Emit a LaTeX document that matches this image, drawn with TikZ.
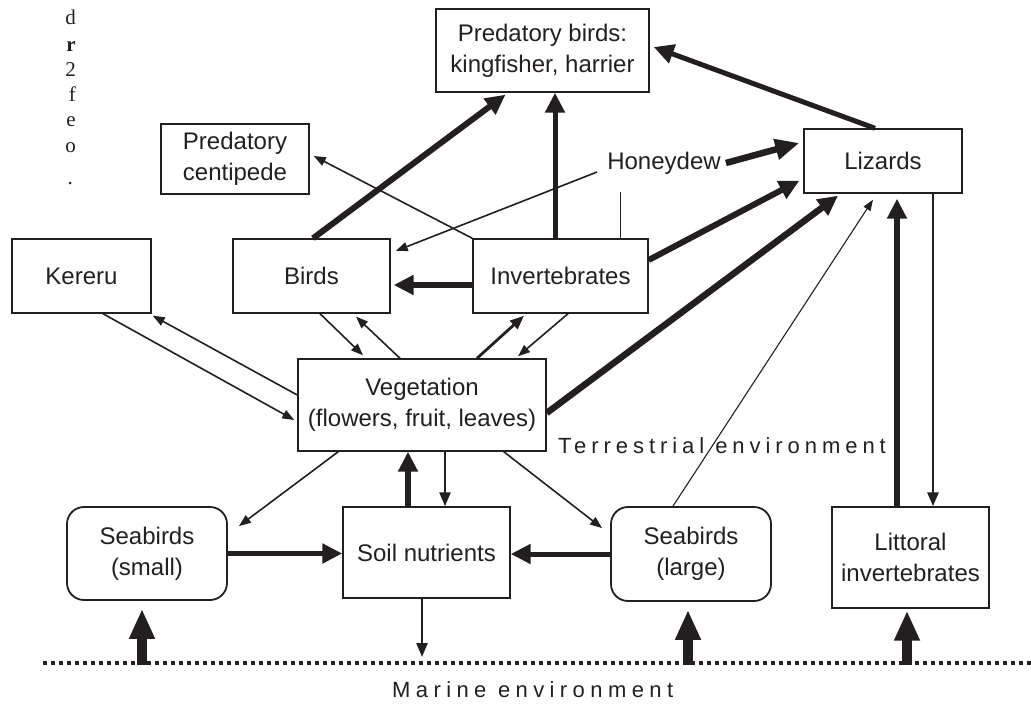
\documentclass[tikz,border=0pt]{standalone}
\usepackage{fontspec}
\setmainfont{Liberation Sans}
\newfontfamily\cutserif{Liberation Serif}
\newfontfamily\trackfont[LetterSpace=22.5]{Liberation Sans}
\newfontfamily\widetrackfont[LetterSpace=24.6]{Liberation Sans}
\usetikzlibrary{arrows.meta}
\definecolor{ink}{RGB}{35,31,32}

\begin{document}
\begin{tikzpicture}[x=1pt,y=-1pt,
  box/.style={draw=ink, line width=1.4pt, align=center, inner sep=0pt,
    text=ink, font=\fontsize{24}{31}\selectfont},
  rbox/.style={box, line width=1.8pt, rounded corners=17pt},
  label/.style={inner sep=0pt, text=ink, font=\fontsize{24}{29}\selectfont},
  envlabel/.style={inner sep=0pt, text=ink, font=\trackfont\fontsize{22}{26}\selectfont},
  sealabel/.style={inner sep=0pt, text=ink, font=\widetrackfont\fontsize{22}{26}\selectfont},
  cut/.style={inner sep=0pt, text=ink, anchor=base east, font=\cutserif\fontsize{21}{25}\selectfont},
  heavy/.style={draw=ink, line width=6pt, -{Triangle[length=20pt,width=19pt]}},
  medium/.style={draw=ink, line width=2.8pt, -{Triangle[length=14pt,width=11pt]}},
  light/.style={draw=ink, line width=1.6pt, -{Triangle[length=12pt,width=9pt]}},
  hair/.style={draw=ink, line width=1.1pt, -{Triangle[length=11pt,width=8pt]}},
  seaflow/.style={draw=ink, line width=10pt, -{Triangle[length=30pt,width=24pt]}},
  shoreline/.style={draw=ink, line width=4pt, dash pattern=on 4.3pt off 3.7pt}]

\path[use as bounding box] (0,0) rectangle (1031,711);

% clipped text from the neighbouring column
\node[cut] (c1) at (76,25) {d};
\node[cut] (c2) at (76,52) {\bfseries r};
\node[cut] (c3) at (76,77) {2};
\node[cut] (c4) at (76,102) {f};
\node[cut] (c5) at (76,127) {e};
\node[cut] (c6) at (76,153) {o};
\node[cut] (c7) at (73,185) {.};

% compartments
\node[box, minimum width=213pt, minimum height=83pt] (predb) at (542.5,50.5) {Predatory birds:\\kingfisher, harrier};
\node[box, minimum width=148pt, minimum height=70pt] (centi) at (235,159) {Predatory\\centipede};
\node[box, minimum width=158pt, minimum height=64pt] (liz) at (883,161) {Lizards};
\node[label] (honey) at (664,163) {Honeydew};
\node[box, minimum width=139pt, minimum height=74pt] (kereru) at (81.5,276) {Kereru};
\node[box, minimum width=157pt, minimum height=74pt] (birds) at (311.5,276) {Birds};
\node[box, minimum width=175pt, minimum height=74pt] (inv) at (560.5,276) {Invertebrates};
\node[box, minimum width=248pt, minimum height=92pt] (veg) at (422,405) {Vegetation\\(flowers, fruit, leaves)};
\node[rbox, minimum width=160pt, minimum height=93pt] (sbs) at (147,553.5) {Seabirds\\(small)};
\node[box, minimum width=167pt, minimum height=91pt] (soil) at (426.5,552.5) {Soil nutrients};
\node[rbox, minimum width=160pt, minimum height=94pt] (sbl) at (691,554) {Seabirds\\(large)};
\node[box, minimum width=157pt, minimum height=101pt] (litt) at (910.5,557.5) {Littoral\\invertebrates};

% environment labels and shoreline
\node[envlabel, anchor=base west] (terr) at (558,453) {Terrestrial environment};
\node[sealabel, anchor=base west] (marine) at (392,697) {Marine environment};
\coordinate (shoreL) at (43,663);
\coordinate (shoreR) at (1031,663);
\draw[shoreline] (shoreL) -- (shoreR);

% helper points on vertical connectors
\coordinate (ip) at ([xshift=-5.5pt]inv.north);
\coordinate (st) at ([xshift=59.5pt]inv.north);
\coordinate (sv) at ([xshift=-18.5pt]soil.north);
\coordinate (vs) at ([xshift=23pt]veg.south);
\coordinate (sm) at ([xshift=-4.5pt]soil.south);
\coordinate (ll) at ([xshift=-13.5pt]litt.north);
\coordinate (lz) at ([xshift=50pt]liz.south);
\coordinate (m1) at (142,665);
\coordinate (m2) at (688,665);
\coordinate (m3) at (907,665);

% flows into predatory birds
\draw[heavy] ([xshift=1.5pt]birds.north) -- ([xshift=-37pt,yshift=-2pt]predb.south);
\draw[heavy, line width=5pt] (ip) -- (ip |- predb.south);
\draw[heavy, line width=5pt] ([xshift=-8pt]liz.north) -- ([xshift=4pt,yshift=3.5pt]predb.east);

% flows into lizards
\draw[heavy, line width=6.5pt, -{Triangle[length=24pt,width=20pt]}] ([xshift=5pt]honey.east) -- ([xshift=-4pt,yshift=18pt]liz.west);
\draw[heavy] ([yshift=16pt]inv.east) -- ([xshift=-4pt,yshift=13pt]liz.south west);
\draw[heavy, line width=6.5pt] ([yshift=-8pt]veg.east) -- ([xshift=-45pt,yshift=-2pt]liz.south);
\draw[hair] ([xshift=-18pt]sbl.north) -- ([xshift=-10pt,yshift=-6pt]liz.south);
\draw[heavy, shorten >=5pt] (ll) -- (ll |- liz.south);
\draw[medium] (lz) -- (lz |- litt.north);

% invertebrates and honeydew
\draw[light] ([xshift=-10pt,yshift=-9pt]honey.west) -- ([xshift=5pt,yshift=25pt]birds.east);
\draw[draw=ink, line width=1pt] (st) -- ++(0,-46);
\draw[light] (inv.north west) -- ([xshift=4pt,yshift=3pt]centi.east);
\draw[heavy] ([yshift=-9pt]inv.west) -- ([xshift=3pt,yshift=-9pt]birds.east);

% exchanges with vegetation
\draw[light] ([xshift=21.5pt]kereru.south) -- ([xshift=-3pt,yshift=-15pt]veg.west);
\draw[light] ([yshift=10pt]veg.west) -- ([xshift=1pt,yshift=-2pt]kereru.south east);
\draw[light] ([xshift=8.5pt]birds.south) -- ([xshift=-59pt,yshift=3pt]veg.north);
\draw[light] ([xshift=-22pt]veg.north) -- ([xshift=44.5pt,yshift=-3pt]birds.south);
\draw[medium] ([xshift=55pt]veg.north) -- ([xshift=-36.5pt,yshift=-2pt]inv.south);
\draw[light] ([xshift=7.5pt]inv.south) -- ([xshift=96pt,yshift=2pt]veg.north);
\draw[light] ([xshift=41pt]veg.south west) -- ([xshift=11pt,yshift=-20pt]sbs.north east);
\draw[light] ([xshift=-43pt]veg.south east) -- ([xshift=-8pt,yshift=-22pt]sbl.north west);

% soil nutrients
\draw[heavy] (sv) -- (sv |- veg.south);
\draw[medium, line width=2.4pt] (vs) -- (vs |- soil.north);
\draw[heavy, line width=5pt] (sbs.east) -- (sbs.east -| soil.west);
\draw[heavy, line width=5pt] (sbl.west) -- (sbl.west -| soil.east);
\draw[medium, line width=2.4pt, shorten >=6pt] (sm) -- (sm |- shoreL);

% marine inputs
\draw[seaflow, shorten >=8pt] (m1) -- (m1 |- sbs.south);
\draw[seaflow, shorten >=8pt] (m2) -- (m2 |- sbl.south);
\draw[seaflow, shorten >=2pt] (m3) -- (m3 |- litt.south);
\end{tikzpicture}
\end{document}
